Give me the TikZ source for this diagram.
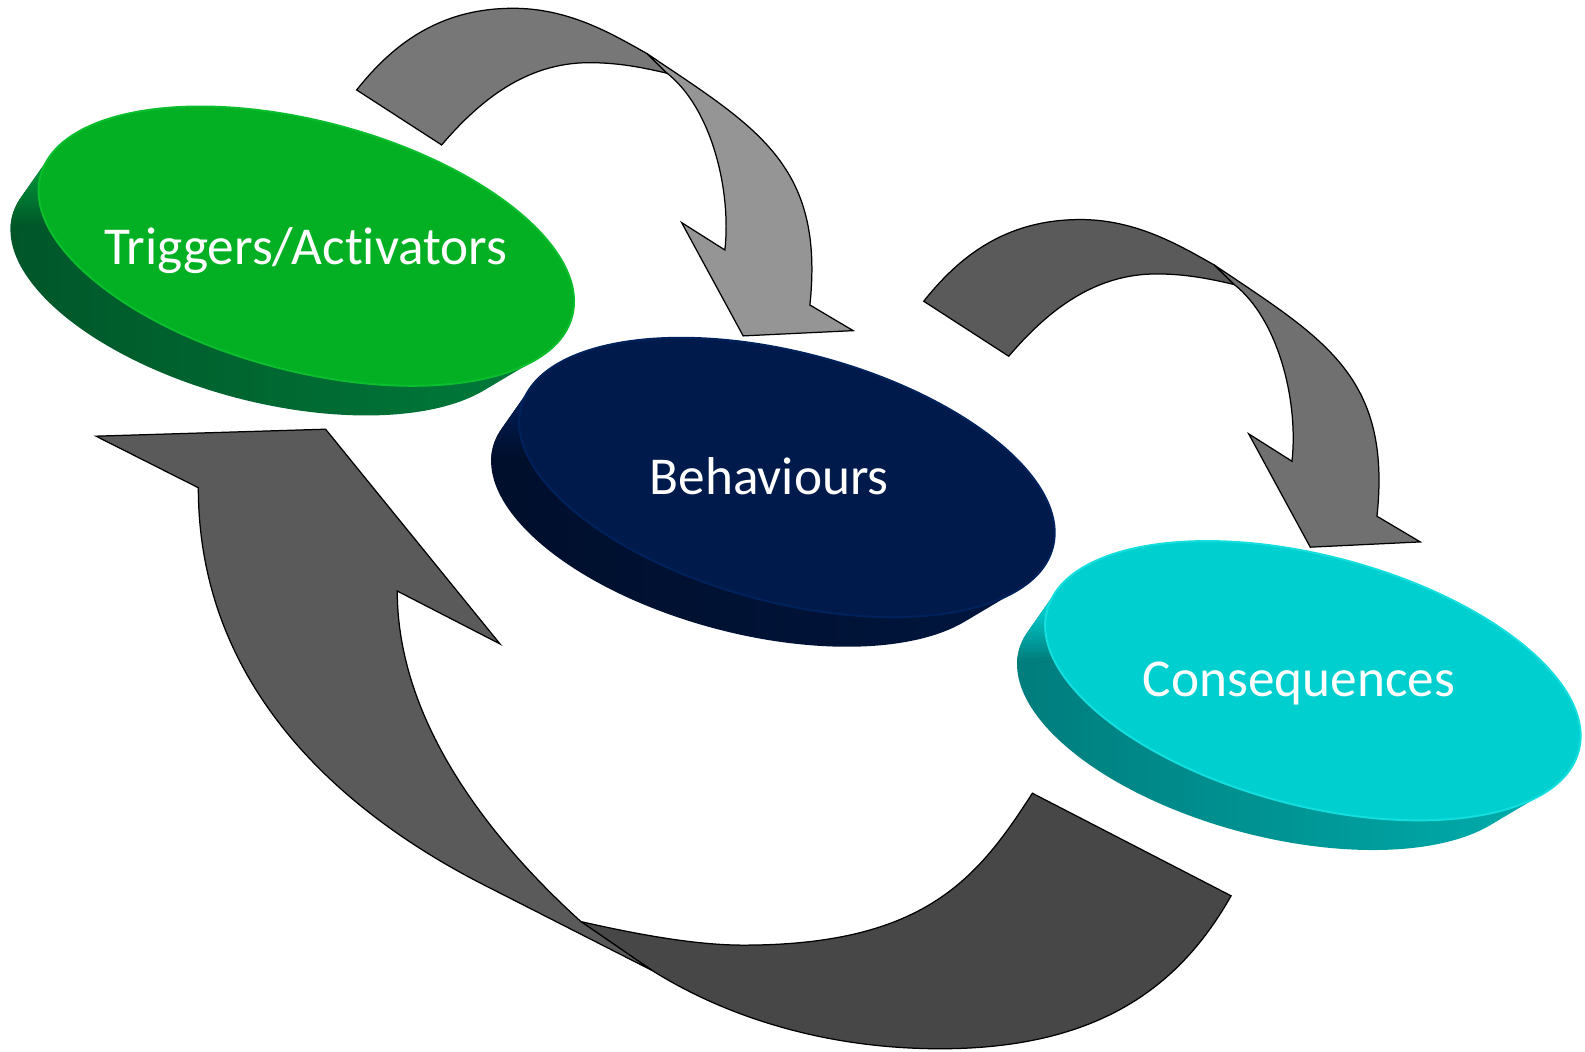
\documentclass[tikz,border=0pt]{standalone}
\usepackage{fontspec}
\setmainfont{Carlito}[Ligatures=NoCommon]
\definecolor{gtop}{RGB}{3,176,35}
\definecolor{grim}{RGB}{10,190,45}
\definecolor{gsideL}{RGB}{0,84,40}
\definecolor{gsideR}{RGB}{0,122,58}
\definecolor{gglow}{RGB}{0,168,62}
\definecolor{btop}{RGB}{0,26,76}
\definecolor{brim}{RGB}{0,34,92}
\definecolor{bsideL}{RGB}{0,14,42}
\definecolor{bsideR}{RGB}{0,22,62}
\definecolor{bglow}{RGB}{0,34,96}
\definecolor{ctop}{RGB}{0,207,208}
\definecolor{crim}{RGB}{20,222,222}
\definecolor{csideL}{RGB}{0,122,122}
\definecolor{csideR}{RGB}{0,172,172}
\definecolor{cglow}{RGB}{0,236,236}
\definecolor{aoned}{RGB}{119,119,119}
\definecolor{aonel}{RGB}{149,149,149}
\definecolor{atwod}{RGB}{90,90,90}
\definecolor{atwol}{RGB}{112,112,112}
\definecolor{athreel}{RGB}{90,90,90}
\definecolor{athreed}{RGB}{71,71,71}
\tikzset{
  lbl/.style={text=white, font=\fontsize{30}{36}\selectfont, anchor=base, inner sep=0pt},
  arrowline/.style={draw=black, line width=0.7pt, line join=miter},
}
\newcommand{\discside}{(-268.28,20.36) -- (-285.32,-25.76)
    arc[start angle=170.51, end angle=336.13, x radius=258.9, y radius=117.6]
    -- (248.74,-49.98)
    arc[start angle=336.13, end angle=170.51, x radius=272, y radius=123.5] -- cycle}
\newcommand{\rdisc}[7]{%
\begin{scope}[shift={(#1,#2)}]
  \shade[rotate=-14.8, left color=#4, right color=#5] \discside;
  \begin{scope}
    \clip[rotate=-14.8] \discside;
    \shade[top color=#6, bottom color=#4] (-310,92) rectangle (-200,18);
  \end{scope}
  \filldraw[rotate=-14.8, fill=#3, draw=#7, line width=1.1pt] (0,0) ellipse[x radius=272, y radius=123.5];
\end{scope}}
\newcommand{\bentarrow}[2]{%
  \filldraw[arrowline, fill=#1] (352.8,-89)
    .. controls (387,-46) and (432.7,-8.2) .. (507.7,-8.2)
    .. controls (562.7,-8.2) and (605.2,-33.4) .. (640,-53)
    -- (660,-72.5)
    .. controls (630.8,-65.5) and (608,-62) .. (583,-62)
    .. controls (520,-62) and (474,-100) .. (436.9,-143.4)
    -- cycle;
  \filldraw[arrowline, fill=#2] (640,-53)
    .. controls (747.9,-125.8) and (815.9,-162.5) .. (801.2,-301.7)
    -- (844,-327.1) -- (735.2,-332.3) -- (674.3,-220.2) -- (717.1,-247.3)
    .. controls (723.7,-187.7) and (703.5,-106.6) .. (660,-72.5)
    -- cycle;}
\begin{document}
\begin{tikzpicture}[x=0.02cm, y=0.02cm]
\useasboundingbox (0,0) rectangle (1568,-1040);
% discs
\rdisc{303}{-243.5}{gtop}{gsideL}{gsideR}{gglow}{grim}
\rdisc{778.5}{-472.3}{btop}{bsideL}{bsideR}{bglow}{brim}
\rdisc{1298.8}{-673.4}{ctop}{csideL}{csideR}{cglow}{crim}
\node[lbl] (trig) at (302.5,-262) {Triggers/Activators};
\node[lbl] (beh) at (761,-489.6) {Behaviours};
\node[lbl] (cons) at (1285,-689) {Consequences};
% arrow 1 and 2
\bentarrow{aoned}{aonel}
\begin{scope}[shift={(561,-209)}]
\bentarrow{atwod}{atwol}
\end{scope}
% arrow 3, lower part
\filldraw[arrowline, fill=athreed] (574.7,-911.7)
  .. controls (623.5,-922.8) and (685,-935) .. (735,-935)
  .. controls (915,-935) and (967.3,-868.7) .. (1021.3,-784.7)
  -- (1217.9,-886.2)
  .. controls (1168.6,-973.2) and (1090,-1037.5) .. (930,-1037.5)
  .. controls (820,-1037.5) and (721.2,-1007.8) .. (645,-960)
  -- cycle;
% arrow 3, upper part with head
\filldraw[arrowline, fill=athreel] (196.2,-482.5) -- (95,-431.5) -- (322.1,-424.6) -- (494.6,-637) -- (393,-584.7)
  .. controls (393,-714.7) and (485.9,-831.3) .. (574.7,-911.7)
  -- (645,-960) -- (474.8,-873.4)
  .. controls (328,-797.5) and (196.2,-672.5) .. (196.2,-482.5)
  -- cycle;
\end{tikzpicture}
\end{document}
